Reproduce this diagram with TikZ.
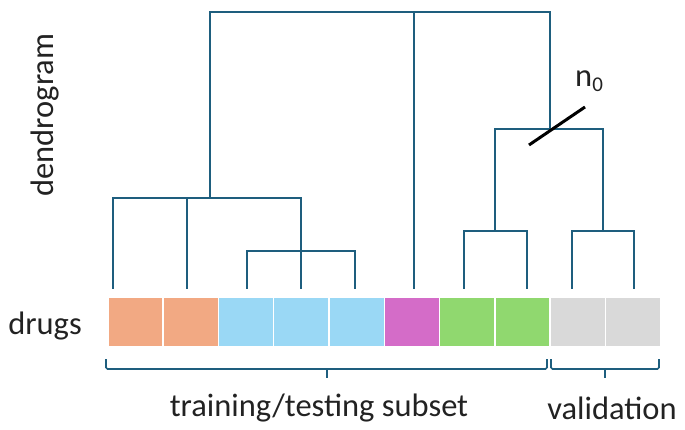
\documentclass[tikz,border=0pt]{standalone}
\usepackage{fontspec}
\setmainfont{Carlito}
\definecolor{dline}{HTML}{1E5E7E}
\definecolor{corange}{HTML}{F2A983}
\definecolor{cblue}{HTML}{9AD8F5}
\definecolor{cmag}{HTML}{D46CC8}
\definecolor{cgreen}{HTML}{90D86F}
\definecolor{cgrey}{HTML}{D9D9D9}
\definecolor{txt}{HTML}{222222}
\tikzset{
  tree/.style={draw=dline, line width=1.7pt, line cap=rect},
  brc/.style={draw=dline, line width=1.6pt, rounded corners=1.5pt},
  cell/.style={draw=white, line width=1.5pt, minimum width=55.3pt, minimum height=50pt, inner sep=0pt, anchor=north west},
  lbl/.style={text=txt, font=\fontsize{32.5}{38}\selectfont, inner sep=0pt},
}
\begin{document}
\begin{tikzpicture}[x=1pt,y=-1pt]
\useasboundingbox (0,0) rectangle (685,430);
% cells
\foreach \i/\c in {0/corange,1/corange,2/cblue,3/cblue,4/cblue,5/cmag,6/cgreen,7/cgreen,8/cgrey,9/cgrey}{
  \node[cell, fill=\c] (c\i) at ({107+\i*55.3},296) {};
}
% leaf tops
\foreach \n/\x in {1/113,2/187,3/247,4/301,5/355,6/414,7/464,8/527,9/572,10/634}{
  \coordinate (l\n) at (\x,288);
}
\coordinate (a) at (301,251);
\coordinate (b) at (210,198);
\coordinate (r1) at (495,231);
\coordinate (r2) at (603,231);
\coordinate (r) at (550,129);
\coordinate (top) at (414,12);
% dendrogram
\draw[tree] (l3) |- (a) -| (l5);
\draw[tree] (l4) -- (a);
\draw[tree] (l1) |- (b) -| (a);
\draw[tree] (l2) -- (l2 |- b);
\draw[tree] (l7) |- (r1) -| (l8);
\draw[tree] (l9) |- (r2) -| (l10);
\draw[tree] (r1) |- (r) -| (r2);
\draw[tree] (b) |- (top) -| (r);
\draw[tree] (l6) -- (top);
% n0 cut
\coordinate (s1) at (529,145);
\coordinate (s2) at (585,107);
\draw[line width=3pt, black] (s1) -- (s2);
\node[lbl, anchor=base west] (n0) at (575,87) {n\raisebox{-0.28ex}{\fontsize{21}{24}\selectfont 0}};
% braces
\draw[brc] (106,359) -- (106,369) -- (547,369) -- (547,359);
\draw[brc] (327,369) -- (327,378);
\draw[brc] (551,359) -- (551,369) -- (659,369) -- (659,359);
\draw[brc] (605,369) -- (605,378);
% labels
\node[lbl, rotate=90] (dendro) at (45,115) {dendrogram};
\node[lbl] (drugs) at (45,326) {drugs};
\node[lbl] (train) at (319,408) {training/testing subset};
\node[lbl] (valid) at (612,408) {validation};
\end{tikzpicture}
\end{document}
